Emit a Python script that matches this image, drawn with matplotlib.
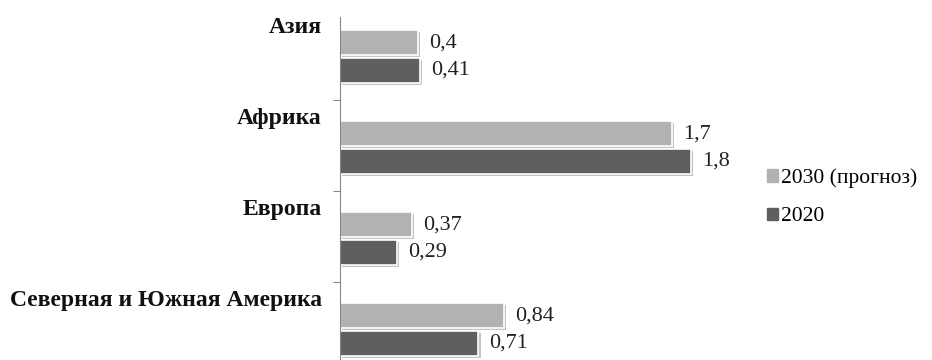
import matplotlib
matplotlib.use('Agg')
import matplotlib.pyplot as plt
import matplotlib.patheffects as pe
from matplotlib.patches import Patch
from matplotlib.transforms import blended_transform_factory

# data
regions = ['Азия', 'Африка', 'Европа', 'Северная и Южная Америка']
vals_2030 = [0.4, 1.7, 0.37, 0.84]
vals_2020 = [0.41, 1.8, 0.29, 0.71]
labels_2030 = ['0,4', '1,7', '0,37', '0,84']
labels_2020 = ['0,41', '1,8', '0,29', '0,71']
series_names = ['2030 (прогноз)', '2020']

plt.rcParams['font.family'] = ['Liberation Serif', 'DejaVu Serif']

light = '#b2b2b2'
dark = '#5f5f5f'

fig = plt.figure(figsize=(9.32, 3.6), dpi=100)
# axes runs a little past the bottom edge, like the cropped original
ax = fig.add_axes([340 / 932, -13 / 360, 400 / 932, 364 / 360])

shadow = [pe.SimplePatchShadow(offset=(1.5, -1.5), shadow_rgbFace='#888888', alpha=0.5), pe.Normal()]

ypos = list(range(len(regions)))
h = 0.27
b1 = ax.barh([y - 0.13 for y in ypos], vals_2030, height=h, color=light,
             edgecolor='white', linewidth=1.2)
b2 = ax.barh([y + 0.175 for y in ypos], vals_2020, height=h, color=dark,
             edgecolor='white', linewidth=1.2)
for p in list(b1) + list(b2):
    p.set_path_effects(shadow)

for y, v, t in zip(ypos, vals_2030, labels_2030):
    ax.annotate(t, (v, y - 0.13), xytext=(8, 0), textcoords='offset points',
                ha='left', va='center', fontsize=16, color='#222222')
for y, v, t in zip(ypos, vals_2020, labels_2020):
    ax.annotate(t, (v, y + 0.175), xytext=(8, 0), textcoords='offset points',
                ha='left', va='center', fontsize=16, color='#222222')

# category names sit near the top of each band
tr = blended_transform_factory(ax.transAxes, ax.transData)
for y, name in zip(ypos, regions):
    ax.text(-0.045, y - 0.30, name, transform=tr, ha='right', va='center',
            fontsize=17, fontweight='bold', color='#111111')

ax.set_xlim(0, 400 / 195)
ax.set_ylim(3.5, -0.5)

for s in ['top', 'right', 'bottom']:
    ax.spines[s].set_visible(False)
ax.spines['left'].set_color('#888888')
ax.spines['left'].set_bounds(-0.41, 3.5)
ax.set_xticks([])
ax.set_yticks([0.5, 1.5, 2.5])
ax.set_yticklabels([])
ax.tick_params(axis='y', length=5, color='#888888')

handles = [Patch(color=light), Patch(color=dark)]
fig.legend(handles, series_names, loc='upper left', bbox_to_anchor=(748 / 932, 1 - 149 / 360),
           frameon=False, fontsize=15.5, handlelength=0.5, handleheight=0.5,
           handletextpad=0.15, labelspacing=0.9)

fig.savefig('out.png', dpi=100)
